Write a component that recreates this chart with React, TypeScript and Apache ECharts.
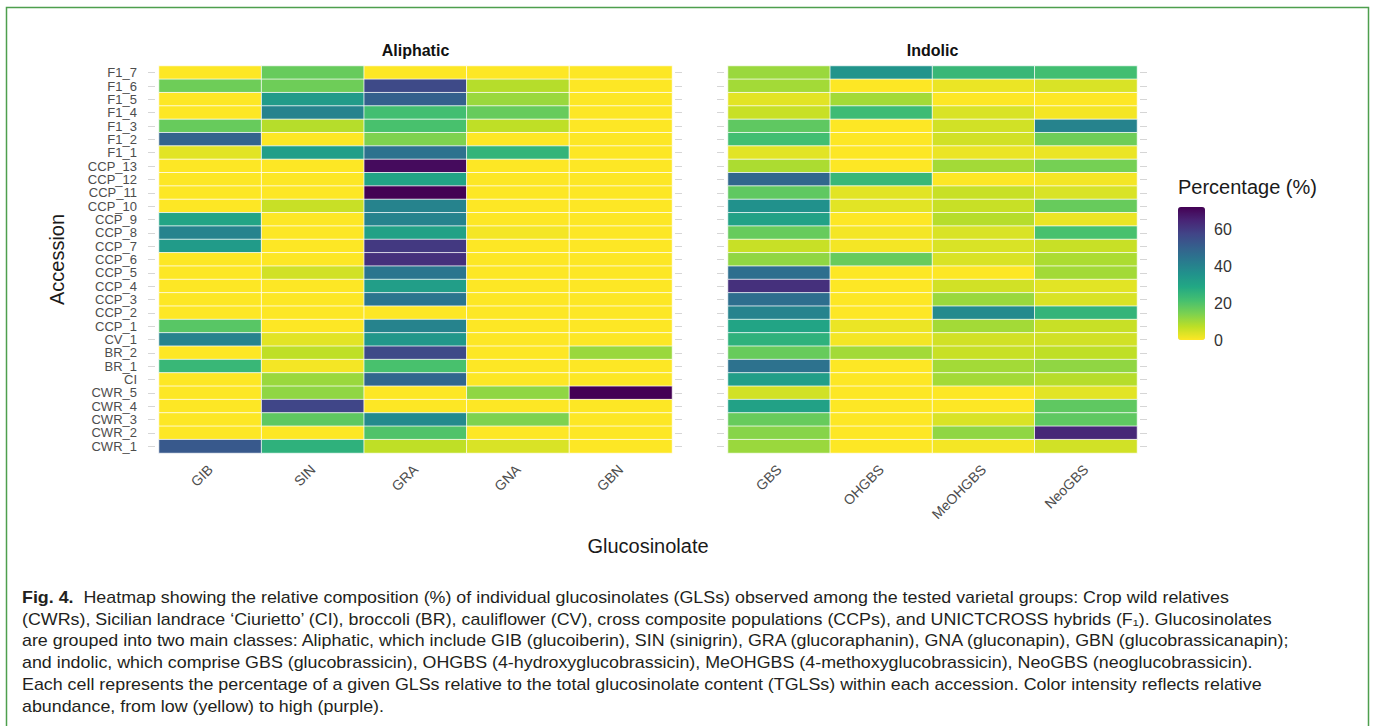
import React, { useEffect, useRef } from 'react';
import * as echarts from 'echarts';

const accessions = [
  'F1_7', 'F1_6', 'F1_5', 'F1_4', 'F1_3', 'F1_2', 'F1_1',
  'CCP_13', 'CCP_12', 'CCP_11', 'CCP_10', 'CCP_9', 'CCP_8', 'CCP_7', 'CCP_6',
  'CCP_5', 'CCP_4', 'CCP_3', 'CCP_2', 'CCP_1', 'CV_1', 'BR_2', 'BR_1', 'CI',
  'CWR_5', 'CWR_4', 'CWR_3', 'CWR_2', 'CWR_1',
];
const aliphatic = ['GIB', 'SIN', 'GRA', 'GNA', 'GBN'];
const indolic = ['GBS', 'OHGBS', 'MeOHGBS', 'NeoGBS'];

// values listed top (F1_7) to bottom (CWR_1)
const GIB = [0, 16, 0, 0, 17, 49, 3, 0, 0, 0, 0, 30, 40, 33, 0, 0, 0, 0, 0, 19, 40, 0, 24, 0, 0, 0, 0, 0, 52];
const SIN = [17, 16, 33, 40, 8, 0, 32, 0, 0, 0, 6, 0, 0, 0, 0, 5, 0, 0, 0, 0, 3, 7, 1, 11, 12, 57, 18, 0, 26];
const GRA = [0, 56, 50, 22, 21, 14, 45, 70, 30, 72, 40, 40, 31, 60, 62, 44, 32, 44, 0, 40, 34, 56, 21, 48, 0, 0, 38, 20, 7];
const GNA = [0, 8, 11, 17, 7, 0, 25, 0, 0, 0, 0, 0, 1, 0, 0, 0, 0, 0, 0, 0, 0, 0, 0, 0, 12, 0, 14, 0, 4];
const GBN = [0, 0, 0, 0, 0, 0, 0, 0, 0, 0, 0, 0, 0, 0, 0, 0, 0, 0, 0, 0, 0, 11, 0, 0, 72, 0, 0, 0, 0];
const GBS = [11, 10, 3, 6, 18, 22, 3, 9, 48, 18, 36, 31, 17, 6, 12, 46, 62, 46, 40, 30, 26, 17, 45, 32, 5, 31, 17, 13, 11];
const OHGBS = [35, 0, 10, 23, 0, 0, 0, 0, 24, 3, 3, 0, 1, 1, 17, 0, 0, 0, 0, 2, 1, 10, 0, 0, 0, 0, 0, 0, 0];
const MeOHGBS = [24, 2, 0, 4, 5, 5, 2, 10, 0, 6, 6, 8, 4, 4, 4, 0, 5, 11, 38, 10, 5, 6, 10, 10, 0, 0, 4, 12, 1];
const NeoGBS = [22, 4, 0, 1, 40, 16, 2, 15, 1, 4, 17, 2, 21, 6, 9, 10, 3, 4, 25, 6, 5, 7, 12, 8, 3, 18, 18, 64, 5];

const legendTicks = [0, 20, 40, 60];
const colorMin = 0;
const colorMax = 72;

const captionLines = [
  '{b|Fig. 4.}  Heatmap showing the relative composition (%) of individual glucosinolates (GLSs) observed among the tested varietal groups: Crop wild relatives',
  '(CWRs), Sicilian landrace \u2018Ciurietto\u2019 (CI), broccoli (BR), cauliflower (CV), cross composite populations (CCPs), and UNICTCROSS hybrids (F\u2081). Glucosinolates',
  'are grouped into two main classes: Aliphatic, which include GIB (glucoiberin), SIN (sinigrin), GRA (glucoraphanin), GNA (gluconapin), GBN (glucobrassicanapin);',
  'and indolic, which comprise GBS (glucobrassicin), OHGBS (4-hydroxyglucobrassicin), MeOHGBS (4-methoxyglucobrassicin), NeoGBS (neoglucobrassicin).',
  'Each cell represents the percentage of a given GLSs relative to the total glucosinolate content (TGLSs) within each accession. Color intensity reflects relative',
  'abundance, from low (yellow) to high (purple).',
];

const viridisRev = ['#FDE725', '#BDDF26', '#7AD151', '#44BF70', '#22A884', '#21918C', '#2A788E', '#355F8D', '#414487', '#482475', '#440154'];

const FONT = '"Liberation Sans", Arial, Helvetica, sans-serif';

export default function App() {
  const ref = useRef<HTMLDivElement>(null);

  useEffect(() => {
    const chart = echarts.init(ref.current!, null, { renderer: 'svg' });

    const aliCols = [GIB, SIN, GRA, GNA, GBN];
    const indCols = [GBS, OHGBS, MeOHGBS, NeoGBS];
    const aliData: number[][] = [];
    aliCols.forEach((col, ci) => col.forEach((v, ri) => aliData.push([ci, ri, v])));
    const indData: number[][] = [];
    indCols.forEach((col, ci) => col.forEach((v, ri) => indData.push([ci, ri, v])));

    const gridTop = 66;
    const gridH = 387;
    const grids = [
      { left: 159, top: gridTop, width: 513, height: gridH },
      { left: 728, top: gridTop, width: 409, height: gridH },
    ];

    const vmLeft = 1178;
    const vmTop = 207;
    const vmW = 27;
    const vmH = 133;
    const tickY = (v: number) => vmTop + vmH * (1 - (v - colorMin) / (colorMax - colorMin));

    const tickCommon = {
      show: true,
      alignWithLabel: true,
      interval: 0,
      length: 7,
      lineStyle: { color: '#d6d6d6', width: 1 },
    };

    const yAxisBase = {
      type: 'category' as const,
      data: accessions,
      inverse: true,
      axisLine: { show: false },
      splitLine: { show: false },
      offset: 4,
    };

    const graphics: any[] = [];
    // figure border
    graphics.push({
      type: 'rect',
      shape: { x: 6.5, y: 7.5, width: 1362, height: 740 },
      style: { fill: 'none', stroke: '#4e9f4e', lineWidth: 1.5 },
      silent: true,
    });
    // panel titles
    graphics.push({
      type: 'text', x: 159 + 513 / 2, y: 50,
      style: { text: 'Aliphatic', font: `bold 16px ${FONT}`, fill: '#111', align: 'center', verticalAlign: 'middle' },
    });
    graphics.push({
      type: 'text', x: 728 + 409 / 2, y: 50,
      style: { text: 'Indolic', font: `bold 16px ${FONT}`, fill: '#111', align: 'center', verticalAlign: 'middle' },
    });
    // x axis title
    graphics.push({
      type: 'text', x: (159 + 1137) / 2, y: 546,
      style: { text: 'Glucosinolate', font: `20px ${FONT}`, fill: '#1a1a1a', align: 'center', verticalAlign: 'middle' },
    });
    // legend title
    graphics.push({
      type: 'text', x: vmLeft, y: 187,
      style: { text: 'Percentage (%)', font: `20px ${FONT}`, fill: '#1a1a1a', align: 'left', verticalAlign: 'middle' },
    });
    legendTicks.forEach((t) => {
      const y = tickY(t);
      graphics.push({
        type: 'text', x: vmLeft + vmW + 9, y,
        style: { text: String(t), font: `16px ${FONT}`, fill: '#333', align: 'left', verticalAlign: 'middle' },
      });
      if (t > colorMin && t < colorMax) {
        graphics.push({ type: 'line', shape: { x1: vmLeft, y1: y, x2: vmLeft + 5, y2: y }, style: { stroke: '#ffffff', lineWidth: 1 } });
        graphics.push({ type: 'line', shape: { x1: vmLeft + vmW - 5, y1: y, x2: vmLeft + vmW, y2: y }, style: { stroke: '#ffffff', lineWidth: 1 } });
      }
    });
    // caption
    captionLines.forEach((line, i) => {
      graphics.push({
        type: 'text', x: 22, y: 597 + i * 21.8, scaleX: 1.05,
        style: {
          text: line,
          font: `17px ${FONT}`,
          fill: '#231f20',
          align: 'left',
          verticalAlign: 'middle',
          rich: { b: { fontWeight: 'bold', fontSize: 17, fontFamily: FONT, fill: '#231f20' } },
        },
      });
    });

    const xAxisBase = {
      type: 'category' as const,
      axisLine: { show: false },
      axisTick: { show: false },
      splitLine: { show: false },
      axisLabel: { rotate: 45, fontSize: 14, color: '#4d4d4d', margin: 14, fontFamily: FONT, interval: 0 },
    };

    const option: any = {
      animation: false,
      backgroundColor: '#ffffff',
      textStyle: { fontFamily: FONT },
      grid: grids,
      xAxis: [
        { ...xAxisBase, gridIndex: 0, data: aliphatic },
        { ...xAxisBase, gridIndex: 1, data: indolic },
      ],
      yAxis: [
        {
          ...yAxisBase, gridIndex: 0, position: 'left',
          axisTick: tickCommon,
          axisLabel: { fontSize: 13, color: '#4d4d4d', margin: 18, fontFamily: FONT, interval: 0 },
          name: 'Accession', nameLocation: 'middle', nameGap: 88, nameRotate: 90,
          nameTextStyle: { fontSize: 20, color: '#1a1a1a', fontFamily: FONT },
        },
        { ...yAxisBase, gridIndex: 0, position: 'right', offset: 3, axisTick: tickCommon, axisLabel: { show: false } },
        { ...yAxisBase, gridIndex: 1, position: 'left', axisTick: tickCommon, axisLabel: { show: false } },
        { ...yAxisBase, gridIndex: 1, position: 'right', offset: 3, axisTick: tickCommon, axisLabel: { show: false } },
      ],
      visualMap: {
        type: 'continuous',
        min: colorMin,
        max: colorMax,
        seriesIndex: [0, 1],
        calculable: false,
        realtime: false,
        orient: 'vertical',
        left: vmLeft,
        top: vmTop,
        padding: 0,
        itemWidth: vmW,
        itemHeight: vmH,
        text: null,
        showLabel: false,
        inRange: { color: viridisRev },
      },
      series: [
        {
          type: 'heatmap', xAxisIndex: 0, yAxisIndex: 0, data: aliData,
          itemStyle: { borderColor: 'rgba(255,255,255,0.75)', borderWidth: 1 },
          emphasis: { disabled: true },
        },
        {
          type: 'heatmap', xAxisIndex: 1, yAxisIndex: 2, data: indData,
          itemStyle: { borderColor: 'rgba(255,255,255,0.75)', borderWidth: 1 },
          emphasis: { disabled: true },
        },
      ],
      graphic: graphics,
    };

    chart.setOption(option);
    return () => chart.dispose();
  }, []);

  return (
    <div
      ref={ref}
      style={{ position: 'absolute', left: 0, top: 0, width: 1375, height: 726, background: '#ffffff' }}
    />
  );
}
